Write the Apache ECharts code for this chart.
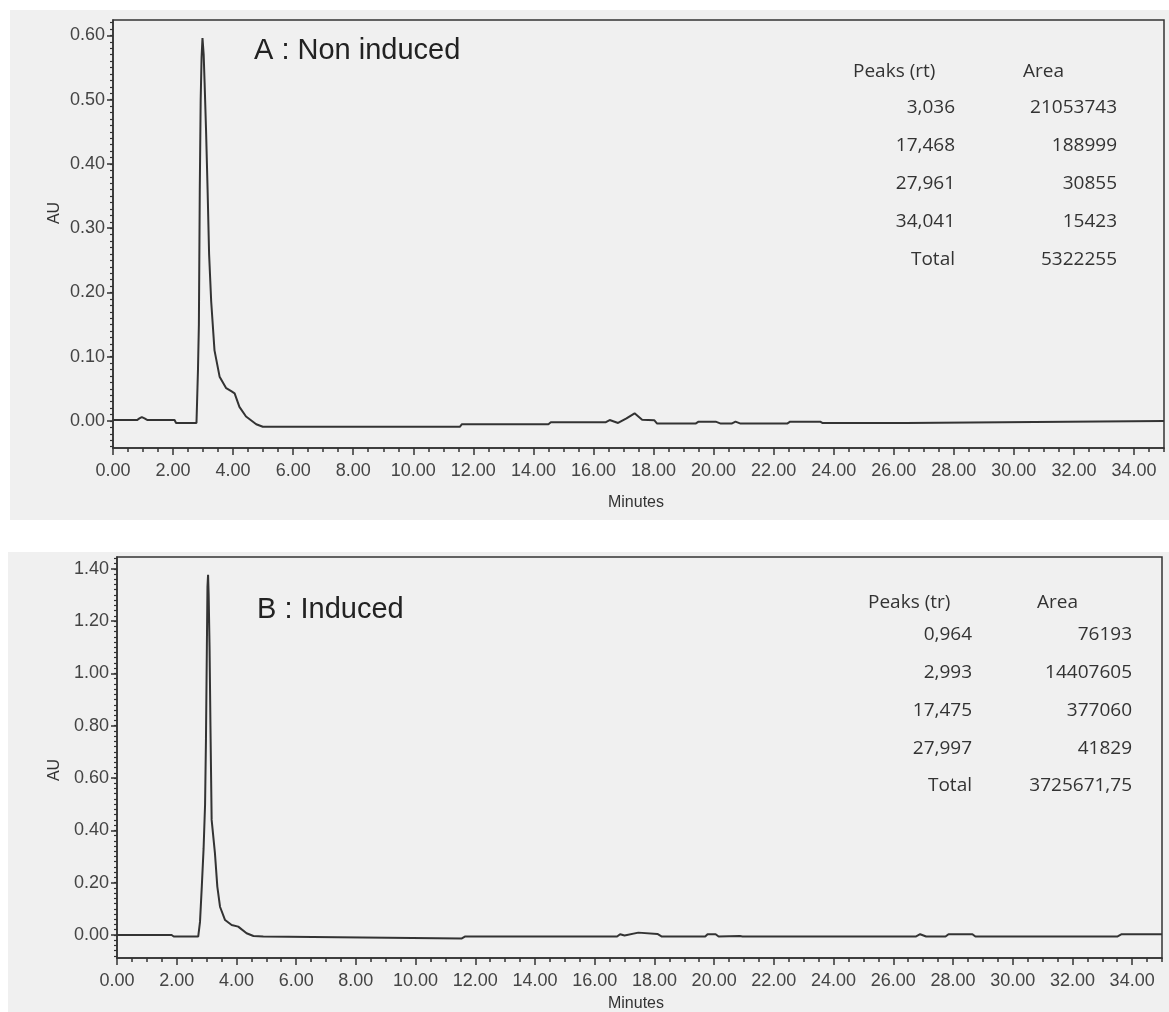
<!DOCTYPE html>
<html>
<head>
<meta charset="utf-8">
<title>Chromatograms A / B</title>
<script src="https://cdn.jsdelivr.net/npm/echarts@6.0.0/dist/echarts.min.js"></script>
<style>
  html, body { margin: 0; padding: 0; background: #fff; }
  #chart { width: 1169px; height: 1012px; }
</style>
</head>
<body>
<div id="chart"></div>
<script>
// trace A : non induced (minutes / AU)
var timeA = [0, 0.80, 0.88, 0.96, 1.05, 1.15, 2.05, 2.10, 2.78, 2.80, 2.83, 2.86, 2.89, 2.92, 2.95, 2.98,
    3.02, 3.05, 3.10, 3.15, 3.20, 3.27, 3.38, 3.55, 3.77, 3.95, 4.05, 4.21, 4.43, 4.77, 4.99,
    11.55, 11.62, 14.50, 14.58, 16.40, 16.54, 16.82, 17.10, 17.37, 17.62, 18.03, 18.12,
    19.40, 19.50, 20.07, 20.24, 20.60, 20.73, 20.90, 22.45, 22.55, 23.55, 23.62, 26.40, 26.46, 35];
var auA = [0.0015, 0.0015, 0.004, 0.006, 0.004, 0.0015, 0.0015, -0.003, -0.003, 0.03, 0.08, 0.15, 0.36, 0.50, 0.566, 0.596,
    0.57, 0.527, 0.45, 0.36, 0.26, 0.186, 0.11, 0.069, 0.051, 0.046, 0.043, 0.022, 0.007, -0.005, -0.009,
    -0.009, -0.005, -0.005, -0.002, -0.002, 0.0015, -0.003, 0.004, 0.012, 0.002, 0.001, -0.004,
    -0.004, -0.001, -0.001, -0.004, -0.004, -0.001, -0.004, -0.004, -0.001, -0.001, -0.003, -0.003, 0.000, 0.000];

// trace B : induced
var timeB = [0, 1.83, 1.90, 2.72, 2.78, 2.84, 2.90, 2.95, 2.98, 3.01, 3.03, 3.05, 3.07, 3.10, 3.13, 3.17,
    3.28, 3.36, 3.45, 3.62, 3.84, 4.06, 4.34, 4.57, 4.90, 4.96, 11.55, 11.65, 16.75, 16.85, 17.00, 17.46,
    18.10, 18.25, 19.70, 19.78, 20.05, 20.15, 20.86, 20.95, 26.75, 26.90, 27.10, 27.75, 27.85, 28.65,
    28.75, 33.50, 33.65, 35];
var auB = [0, 0, -0.006, -0.006, 0.05, 0.185, 0.33, 0.50, 0.75, 1.10, 1.33, 1.377, 1.30, 1.10, 0.80, 0.44,
    0.313, 0.185, 0.108, 0.057, 0.038, 0.032, 0.0065, -0.004, -0.006, -0.013, -0.013, -0.006, -0.006, 0.003, -0.002, 0.009,
    0.004, -0.006, -0.006, 0.003, 0.003, -0.006, -0.004, -0.006, -0.006, 0.003, -0.006, -0.006, 0.003, 0.003,
    -0.006, -0.006, 0.003, 0.003];

var xTicks = [0, 2, 4, 6, 8, 10, 12, 14, 16, 18, 20, 22, 24, 26, 28, 30, 32, 34];
var yTicksA = [0, 0.1, 0.2, 0.3, 0.4, 0.5, 0.6];
var yTicksB = [0, 0.2, 0.4, 0.6, 0.8, 1.0, 1.2, 1.4];

var peaksA = ['3,036', '17,468', '27,961', '34,041'];
var areasA = ['21053743', '188999', '30855', '15423'];
var totalA = '5322255';
var peaksB = ['0,964', '2,993', '17,475', '27,997'];
var areasB = ['76193', '14407605', '377060', '41829'];
var totalB = '3725671,75';

var LINE = '#333';
var PANEL = '#f0f0f0';
var AXIS_FONT = '"Liberation Sans", Arial, sans-serif';
var TABLE_FONT = '"Open Sans", "Noto Sans", sans-serif';

function pairs(xs, ys) {
    return xs.map(function (x, i) { return [x, ys[i]]; });
}
function steps(from, to, step) {
    var out = [];
    for (var v = from; v <= to + 1e-9; v += step) out.push(Math.round(v * 1000) / 1000);
    return out;
}

function majorX(gi) {
    return {
        type: 'value', gridIndex: gi, position: 'bottom', min: 0, max: 35,
        axisLine: { onZero: false, lineStyle: { color: LINE, width: 1.5 } },
        axisTick: { customValues: xTicks, length: 7, lineStyle: { color: LINE, width: 1.5 } },
        axisLabel: {
            customValues: xTicks, margin: 14, color: '#444', fontSize: 18, fontFamily: AXIS_FONT,
            formatter: function (v) { return v.toFixed(2); }
        },
        splitLine: { show: false }
    };
}
function minorX(gi) {
    return {
        type: 'value', gridIndex: gi, position: 'bottom', min: 0, max: 35,
        axisLine: { show: false, onZero: false },
        axisTick: { customValues: steps(0, 35, 0.5), length: 4, lineStyle: { color: LINE, width: 1.5 } },
        axisLabel: { show: false },
        splitLine: { show: false }
    };
}
function majorY(gi, min, max, ticks) {
    return {
        type: 'value', gridIndex: gi, position: 'left', min: min, max: max,
        axisLine: { show: true, onZero: false, lineStyle: { color: LINE, width: 1.5 } },
        axisTick: { show: true, customValues: ticks, length: 6, lineStyle: { color: LINE, width: 1.5 } },
        axisLabel: {
            customValues: ticks, margin: 8, color: '#444', fontSize: 18, fontFamily: AXIS_FONT,
            formatter: function (v) { return v.toFixed(2); }
        },
        splitLine: { show: false }
    };
}
function minorY(gi, min, max, from, to, step) {
    return {
        type: 'value', gridIndex: gi, position: 'left', min: min, max: max,
        axisLine: { show: false, onZero: false },
        axisTick: { show: true, customValues: steps(from, to, step), length: 3, lineStyle: { color: LINE, width: 1.2 } },
        axisLabel: { show: false },
        splitLine: { show: false }
    };
}

function txt(x, y, s, opt) {
    opt = opt || {};
    return {
        type: 'text', x: x, y: y, rotation: opt.rotation || 0, z: 10,
        style: {
            text: s, fill: opt.fill || '#333',
            font: (opt.size || 19) + 'px ' + (opt.family || TABLE_FONT),
            textAlign: opt.align || 'left', textVerticalAlign: 'middle'
        }
    };
}

function table(head, peaks, areas, total, xHead, xArea, xCol1, xCol2, yHead, yRow, dy) {
    var els = [txt(xHead, yHead, head), txt(xArea, yHead, 'Area')];
    var col1 = peaks.concat(['Total']);
    var col2 = areas.concat([total]);
    for (var i = 0; i < col1.length; i++) {
        els.push(txt(xCol1, yRow + i * dy, col1[i], { align: 'right' }));
        els.push(txt(xCol2, yRow + i * dy, col2[i], { align: 'right' }));
    }
    return els;
}

var graphics = [
    { type: 'rect', z: -10, shape: { x: 10, y: 10, width: 1159, height: 510 }, style: { fill: PANEL } },
    { type: 'rect', z: -10, shape: { x: 8, y: 552, width: 1161, height: 460 }, style: { fill: PANEL } },
    txt(254, 51, 'A : Non induced', { size: 29, family: AXIS_FONT, fill: '#222' }),
    txt(257, 610, 'B : Induced', { size: 29, family: AXIS_FONT, fill: '#222' }),
    txt(55, 213, 'AU', { size: 16, family: AXIS_FONT, align: 'center', rotation: Math.PI / 2 }),
    txt(55, 770, 'AU', { size: 16, family: AXIS_FONT, align: 'center', rotation: Math.PI / 2 }),
    txt(636, 503, 'Minutes', { size: 16, family: AXIS_FONT, align: 'center' }),
    txt(636, 1004, 'Minutes', { size: 16, family: AXIS_FONT, align: 'center' })
].concat(
    table('Peaks (rt)', peaksA, areasA, totalA, 853, 1023, 955, 1117, 72, 108, 37.8),
    table('Peaks (tr)', peaksB, areasB, totalB, 868, 1037, 972, 1132, 603, 635, 37.7)
);

var option = {
    backgroundColor: '#fff',
    animation: false,
    grid: [
        { left: 113, top: 20, right: 5, height: 428, show: true, backgroundColor: PANEL, borderColor: LINE, borderWidth: 1.5 },
        { left: 117, top: 557, right: 7, height: 401, show: true, backgroundColor: PANEL, borderColor: LINE, borderWidth: 1.5 }
    ],
    xAxis: [majorX(0), minorX(0), majorX(1), minorX(1)],
    yAxis: [
        majorY(0, -0.042, 0.624, yTicksA),
        minorY(0, -0.042, 0.624, -0.04, 0.62, 0.01),
        majorY(1, -0.088, 1.445, yTicksB),
        minorY(1, -0.088, 1.445, -0.08, 1.44, 0.02)
    ],
    series: [
        {
            name: 'A', type: 'line', xAxisIndex: 0, yAxisIndex: 0, data: pairs(timeA, auA),
            showSymbol: false, symbol: 'none', silent: true, lineStyle: { color: LINE, width: 2 }
        },
        {
            name: 'B', type: 'line', xAxisIndex: 2, yAxisIndex: 2, data: pairs(timeB, auB),
            showSymbol: false, symbol: 'none', silent: true, lineStyle: { color: LINE, width: 2 }
        }
    ],
    graphic: graphics
};

echarts.init(document.getElementById('chart')).setOption(option);
</script>
</body>
</html>
